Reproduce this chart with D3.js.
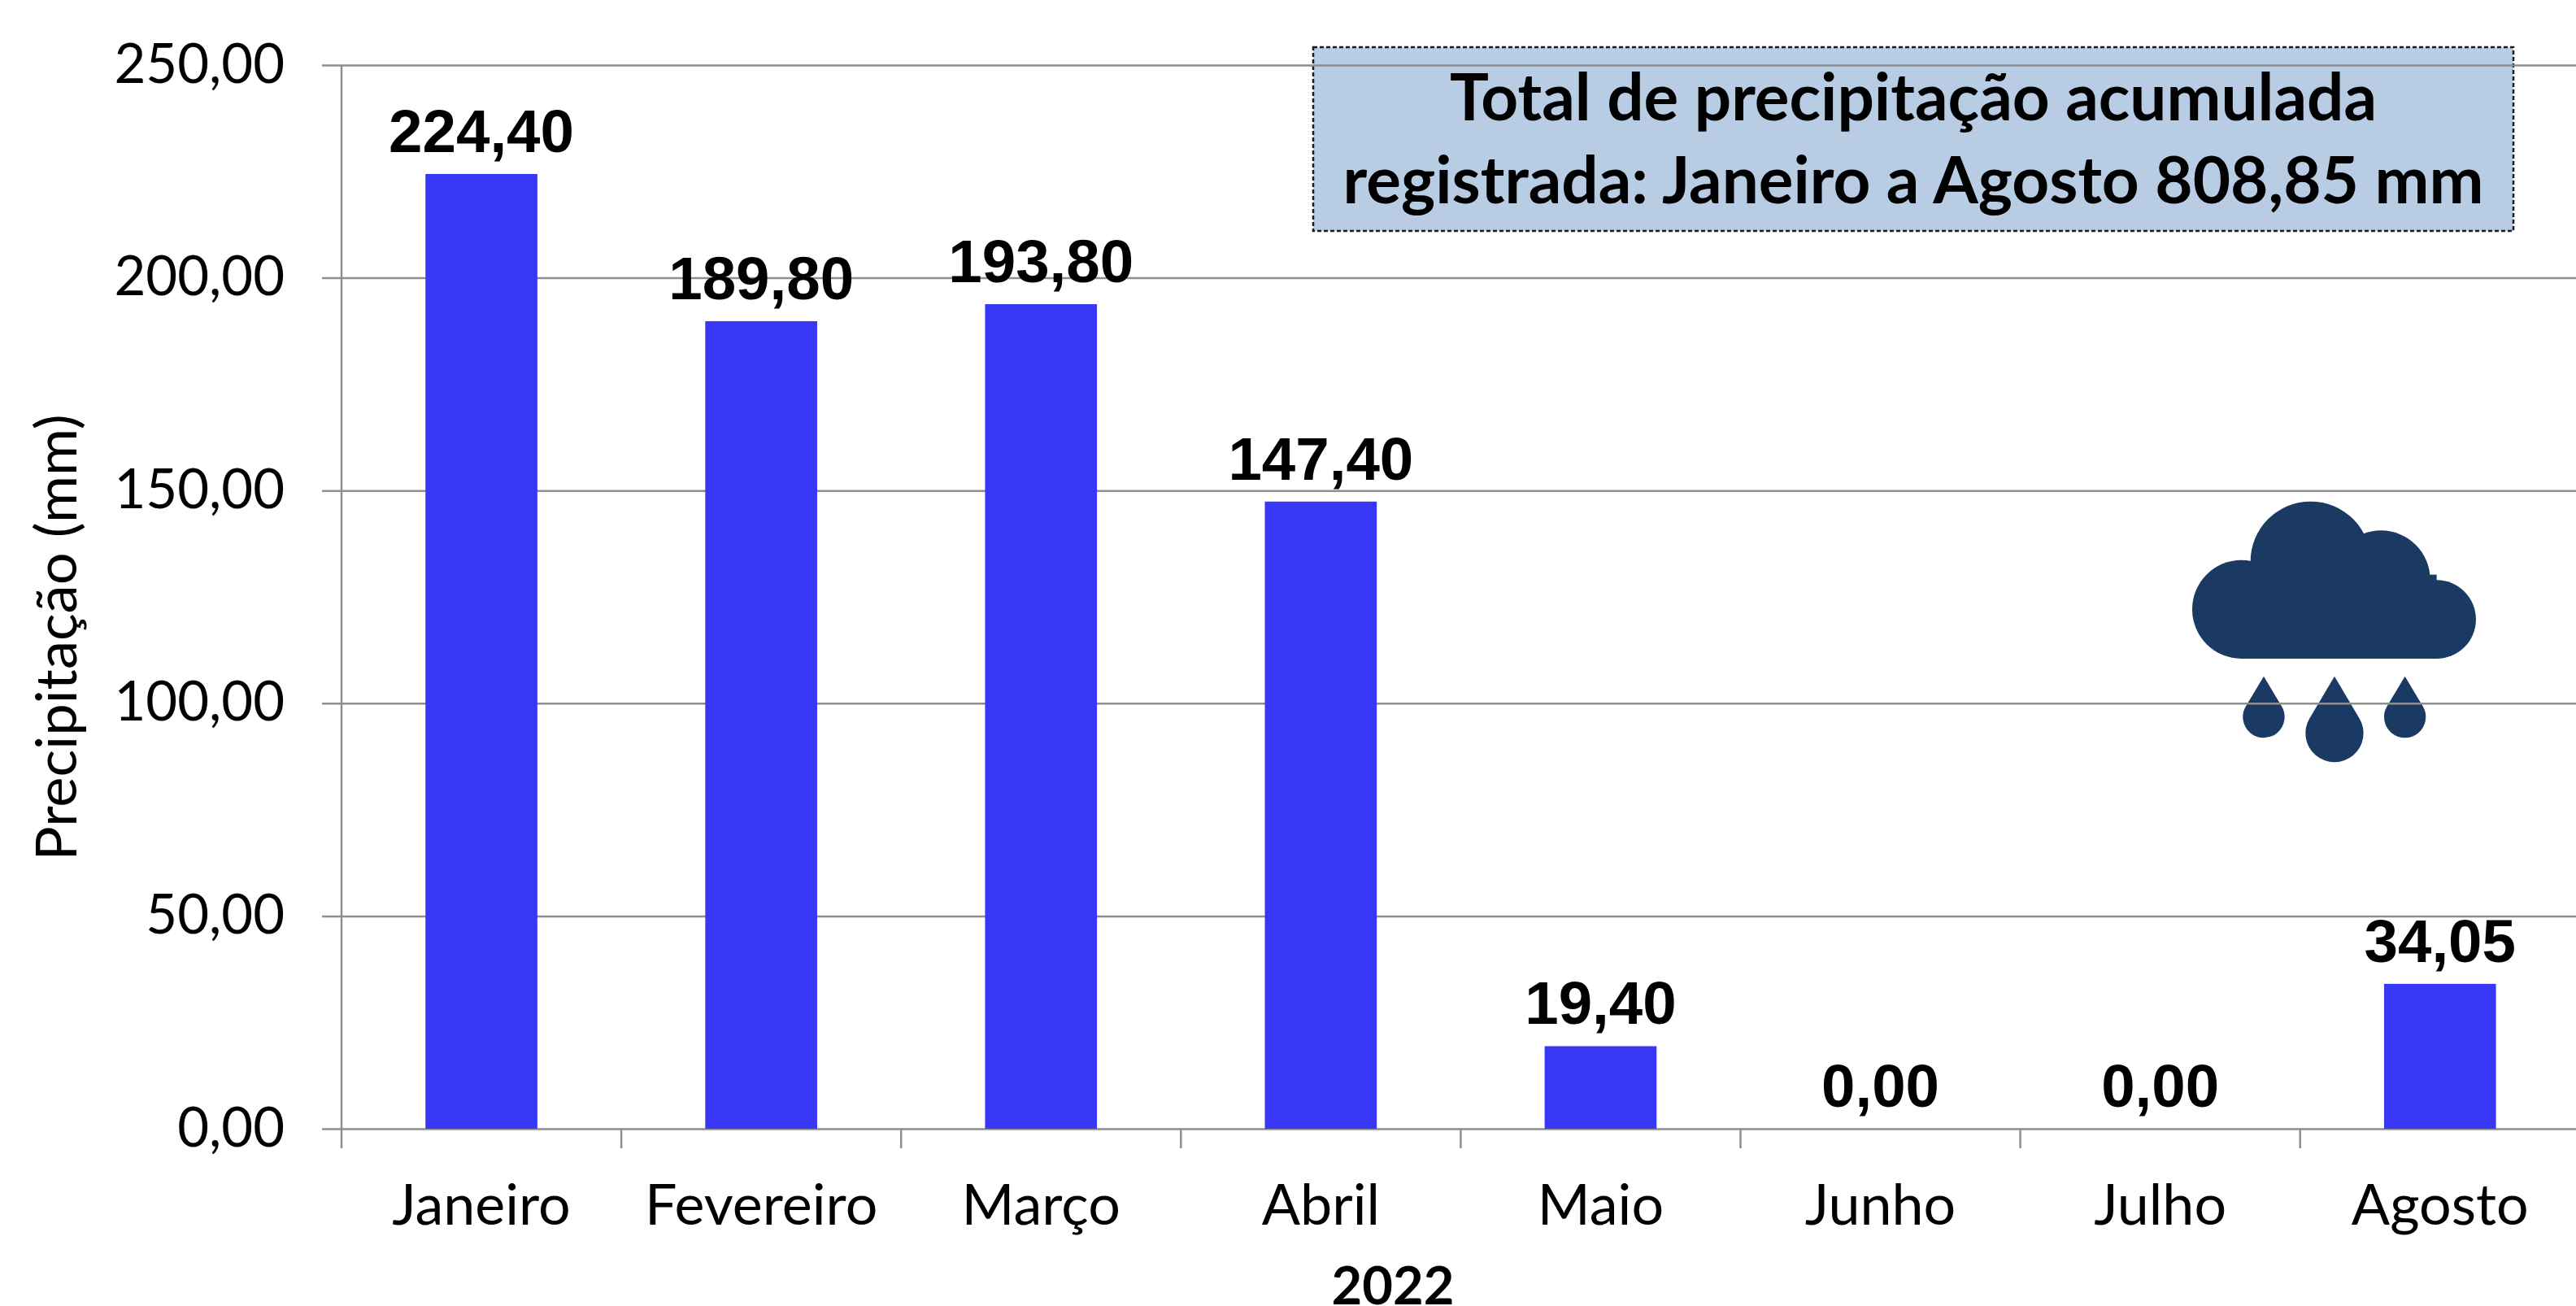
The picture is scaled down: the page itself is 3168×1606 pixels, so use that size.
<!DOCTYPE html>
<html>
<head>
<meta charset="utf-8">
<script src="https://cdn.jsdelivr.net/npm/d3@7"></script>
<style>
  html, body { margin: 0; padding: 0; background: #fff; }
  svg { display: block; }
  text { fill: #000; }
</style>
</head>
<body>
<svg id="chart" width="3168" height="1606"></svg>
<script>
// values
const months = ["Janeiro", "Fevereiro", "Março", "Abril", "Maio", "Junho", "Julho", "Agosto"]
const precipitation = [224.40, 189.80, 193.80, 147.40, 19.40, 0.00, 0.00, 34.05]
const yTicks = [0, 50, 100, 150, 200, 250]
const titleLines = ["Total de precipitação acumulada", "registrada: Janeiro a Agosto 808,85 mm"]
const yTitle = "Precipitação (mm)"
const xTitle = "2022"

const sans = "Lato, 'Noto Sans', sans-serif"
const arial = "'Liberation Sans', Arial, sans-serif"
const gridColor = "#8e8e8e"

let svg = d3.select("#chart")
let plotLeft = 420, plotRight = 3168, plotTop = 80, plotBottom = 1388

// the original is cropped on the right, the last band runs a little past the edge
let x = d3.scaleBand().domain(months).range([plotLeft, plotLeft + 8 * 344.1]).paddingInner(0.6).paddingOuter(0.3)
let y = d3.scaleLinear().domain([0, 250]).range([plotBottom, plotTop])
let fmt = d3.formatLocale({ decimal: ",", thousands: ".", grouping: [3], currency: ["", ""] }).format(".2f")

// title box sits under the gridlines in the original
let box = svg.append("g")
box.append("rect")
  .attr("x", 1615).attr("y", 58)
  .attr("width", 1476).attr("height", 226)
  .attr("fill", "#b8cce4")
  .attr("stroke", "#1a1a1a")
  .attr("stroke-width", 2.5)
  .attr("stroke-dasharray", "5 3")

box.selectAll("text")
  .data(titleLines)
  .enter().append("text")
  .attr("x", 2353)
  .attr("y", (d, i) => 148 + i * 102)
  .attr("text-anchor", "middle")
  .attr("font-family", sans)
  .attr("font-weight", 700)
  .attr("font-size", "80px")
  .text(d => d)

// rain cloud icon, coordinates from the zoomed crop (3x)
let icon = svg.append("g")
  .attr("transform", "translate(2600,560) scale(0.3333)")
  .attr("fill", "#1a3a63")
let blobs = [[470, 568, 182], [725, 392, 222], [985, 458, 181], [1190, 605, 145]]
icon.selectAll("circle.blob")
  .data(blobs)
  .enter().append("circle")
  .attr("class", "blob")
  .attr("cx", d => d[0]).attr("cy", d => d[1]).attr("r", d => d[2])
icon.append("rect")
  .attr("x", 470).attr("y", 440).attr("width", 720).attr("height", 310)
let drops = [[552, 965, 77], [813, 1025, 107], [1073, 965, 77]]
icon.selectAll("path.drop")
  .data(drops)
  .enter().append("path")
  .attr("class", "drop")
  .attr("d", d => {
    // straight sides from the tip, tangent to the round bottom
    let cx = d[0], cy = d[1], r = d[2], tip = 815
    let h = cy - tip
    let ty = cy - r * r / h
    let tx = r * Math.sqrt(1 - (r / h) * (r / h))
    return "M" + cx + "," + tip +
      "L" + (cx + tx) + "," + ty +
      "A" + r + "," + r + " 0 1 1 " + (cx - tx) + "," + ty + "Z"
  })

// y axis with the gridlines as its ticks
let yAxis = svg.append("g")
  .attr("transform", "translate(" + plotLeft + ",0)")
  .call(d3.axisLeft(y).tickValues(yTicks).tickSize(-(plotRight - plotLeft)).tickFormat(fmt))
yAxis.select(".domain").remove()
yAxis.selectAll("line")
  .attr("x1", -24)
  .attr("stroke", gridColor)
  .attr("stroke-width", 2.5)
yAxis.selectAll("text")
  .attr("x", -70)
  .attr("dy", null)
  .attr("y", 21)
  .attr("font-family", sans)
  .attr("font-size", "67px")
  .style("fill", "#000")

// vertical axis line down past the baseline, same length as the month ticks
svg.append("line")
  .attr("x1", plotLeft).attr("x2", plotLeft)
  .attr("y1", plotTop).attr("y2", plotBottom + 24)
  .attr("stroke", gridColor)
  .attr("stroke-width", 2.5)

// x axis, labels only; ticks go between the months
let xAxis = svg.append("g")
  .attr("transform", "translate(0," + plotBottom + ")")
  .call(d3.axisBottom(x).tickSize(0))
xAxis.select(".domain").remove()
xAxis.selectAll("text")
  .attr("y", 118)
  .attr("dy", null)
  .attr("font-family", sans)
  .attr("font-size", "70px")
  .style("fill", "#000")

svg.selectAll("line.sep")
  .data(months.slice(1))
  .enter().append("line")
  .attr("class", "sep")
  .attr("x1", d => x(d) - x.step() * 0.3)
  .attr("x2", d => x(d) - x.step() * 0.3)
  .attr("y1", plotBottom).attr("y2", plotBottom + 24)
  .attr("stroke", gridColor)
  .attr("stroke-width", 2.5)

// bars
svg.selectAll("rect.bar")
  .data(precipitation)
  .enter().append("rect")
  .attr("class", "bar")
  .attr("x", (d, i) => x(months[i]))
  .attr("y", d => y(d))
  .attr("width", x.bandwidth())
  .attr("height", d => plotBottom - y(d))
  .attr("fill", "#3737f5")

// value labels
svg.selectAll("text.value")
  .data(precipitation)
  .enter().append("text")
  .attr("class", "value")
  .attr("x", (d, i) => x(months[i]) + x.bandwidth() / 2)
  .attr("y", d => y(d) - 27)
  .attr("text-anchor", "middle")
  .attr("font-family", arial)
  .attr("font-weight", 700)
  .attr("font-size", "74.5px")
  .text(d => fmt(d))

// axis titles
svg.append("text")
  .attr("transform", "translate(94,784) rotate(-90)")
  .attr("text-anchor", "middle")
  .attr("font-family", sans)
  .attr("font-size", "70.5px")
  .text(yTitle)

svg.append("text")
  .attr("x", 1713).attr("y", 1604)
  .attr("text-anchor", "middle")
  .attr("font-family", sans)
  .attr("font-weight", 700)
  .attr("font-size", "65px")
  .text(xTitle)
</script>
</body>
</html>
